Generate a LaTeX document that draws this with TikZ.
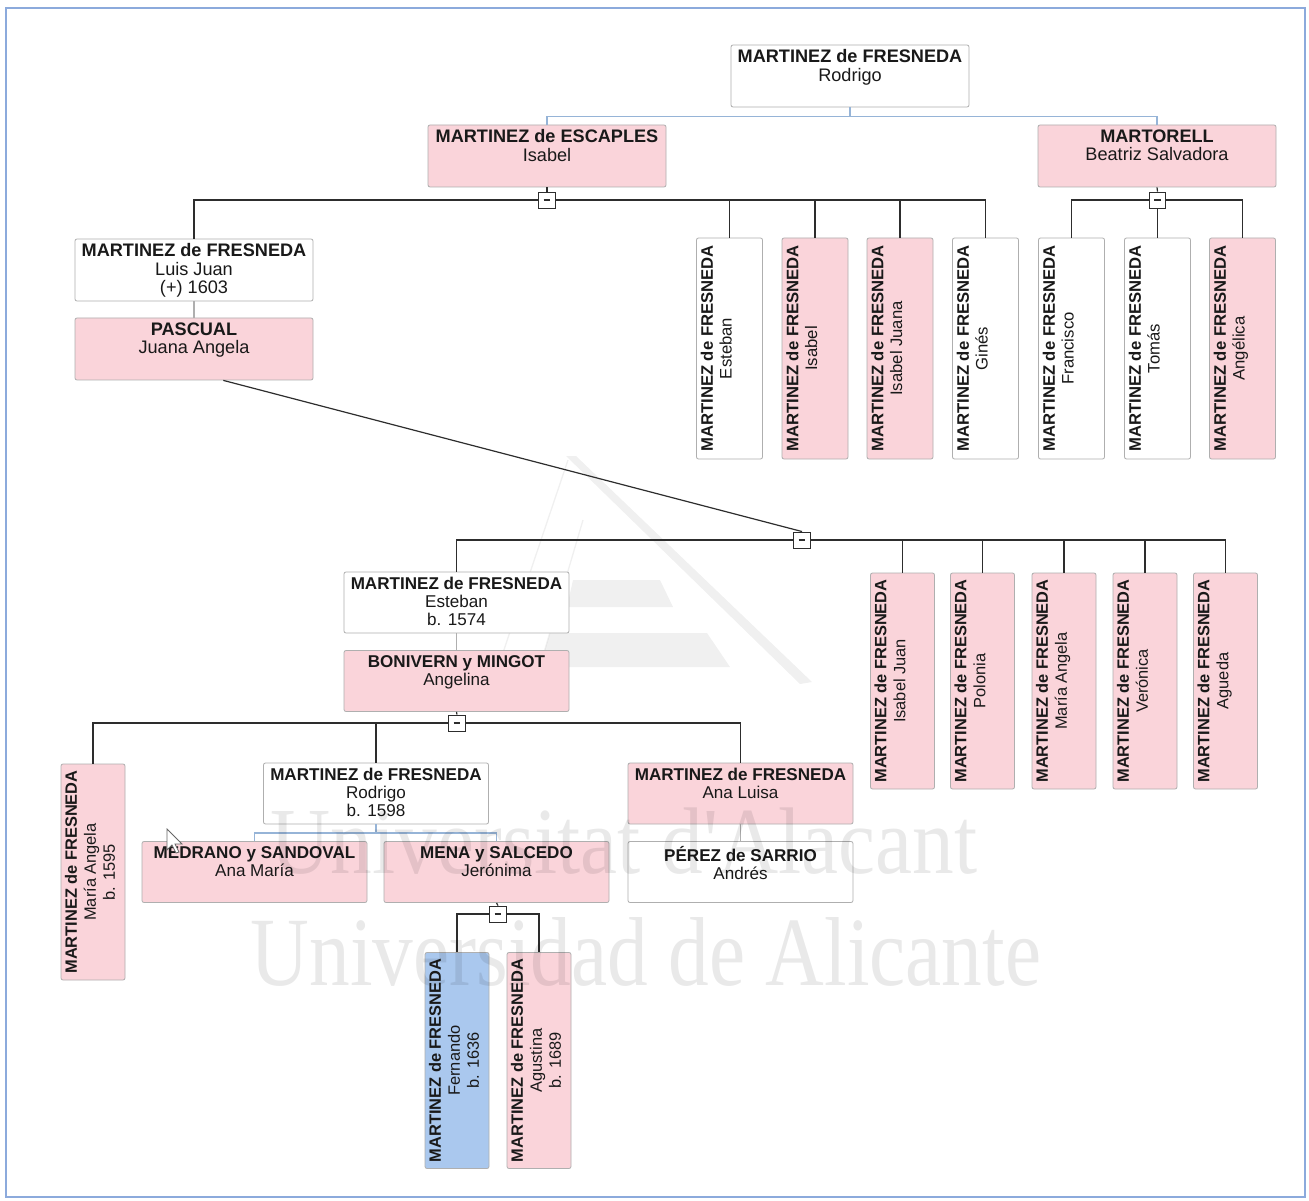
\documentclass[tikz,border=0pt]{standalone}
\usepackage{fontspec}
\setmainfont{Liberation Sans}
\newfontfamily\wmfont{Liberation Serif}
\usetikzlibrary{calc}
\definecolor{pinkf}{RGB}{250,212,218}
\definecolor{bluef}{RGB}{170,200,238}
\definecolor{boxline}{RGB}{175,175,175}
\definecolor{lnk}{RGB}{45,45,45}
\definecolor{spousec}{RGB}{150,180,215}
\definecolor{framec}{RGB}{140,170,220}
\definecolor{txt}{RGB}{25,25,25}
\newcommand\hbig[1]{\parbox[c][46.5pt][t]{178.5pt}{\vskip3.4pt\centering\fontsize{13.6pt}{13.9pt}\selectfont#1\par}}
\newcommand\hmid[1]{\parbox[c][45.75pt][t]{168.75pt}{\vskip3.8pt\centering\fontsize{12.8pt}{13.4pt}\selectfont#1\par}}
\newcommand\vbA[1]{\parbox[c][49.5pt][t]{165.75pt}{\vskip3.2pt\centering\fontsize{12.5pt}{14pt}\selectfont#1\par}}
\newcommand\vbB[1]{\parbox[c][48pt][t]{162pt}{\vskip3pt\centering\fontsize{12.3pt}{14.2pt}\selectfont#1\par}}
\newcommand\mf{\textbf{MARTINEZ de FRESNEDA}}
\tikzset{
  pbox/.style={draw=boxline, line width=0.6pt, rounded corners=1.5pt, inner sep=0pt, text=txt},
  pk/.style={pbox, fill=pinkf},
  bl/.style={pbox, fill=bluef},
  wt/.style={pbox, fill=white},
  turned/.style={rotate=90},
  tog/.style={draw=lnk, fill=white, line width=0.7pt, minimum width=12.5pt, minimum height=12pt, inner sep=0pt,
    path picture={\draw[line width=1pt,lnk] ([xshift=-2.6pt]path picture bounding box.center) -- ([xshift=2.6pt]path picture bounding box.center);}},
  link/.style={draw=lnk, line width=0.9pt},
  sp/.style={draw=spousec, line width=1.1pt},
  cpl/.style={draw=boxline, line width=0.9pt},
  wm/.style={inner sep=0pt, text=black, text opacity=0.085},
}
\begin{document}
\begin{tikzpicture}[x=0.75pt,y=-0.75pt]
\useasboundingbox (0,0) rectangle (1309,1201);
\fill[white] (0,0) rectangle (1309,1201);
\draw[framec, line width=1.3pt] (6,8) rectangle (1305,1197);

% faint logo
\begin{scope}[opacity=0.06]
  \fill[black] (566,456) -- (576,456) -- (812,682) -- (800,684) -- cycle;
  \draw[black, line width=1pt] (568,460) -- (487,700);
  \draw[black, line width=1pt] (583,520) -- (530,700);
  \fill[black] (573,580) -- (660,580) -- (673,607) -- (567,607) -- cycle;
  \fill[black] (550,633) -- (707,633) -- (730,667) -- (540,667) -- cycle;
\end{scope}

% generation 1
\node[wt] (rodrigo1) at (850,76) {\hbig{\mf\\Rodrigo}};
\node[pk] (isabelE) at (547,156) {\hbig{\textbf{MARTINEZ de ESCAPLES}\\Isabel}};
\node[pk] (beatriz) at (1157,156) {\hbig{\textbf{MARTORELL}\\Beatriz Salvadora}};

% generation 2
\node[wt] (luisjuan) at (194,270) {\hbig{\mf\\Luis Juan\\(+) 1603}};
\node[pk] (pascual) at (194,349) {\hbig{\textbf{PASCUAL}\\Juana Angela}};
\node[wt,turned] (vEsteban) at (729.5,348.5) {\vbA{\mf\\Esteban}};
\node[pk,turned] (vIsabel) at (815,348.5) {\vbA{\mf\\Isabel}};
\node[pk,turned] (vIsabelJuana) at (900,348.5) {\vbA{\mf\\Isabel Juana}};
\node[wt,turned] (vGines) at (985.5,348.5) {\vbA{\mf\\Ginés}};
\node[wt,turned] (vFrancisco) at (1071.5,348.5) {\vbA{\mf\\Francisco}};
\node[wt,turned] (vTomas) at (1157.5,348.5) {\vbA{\mf\\Tomás}};
\node[pk,turned] (vAngelica) at (1242.5,348.5) {\vbA{\mf\\Angélica}};

% generation 3
\node[wt] (esteban2) at (456.5,602.5) {\hmid{\mf\\Esteban\\b. 1574}};
\node[pk] (bonivern) at (456.5,681) {\hmid{\textbf{BONIVERN y MINGOT}\\Angelina}};
\node[pk,turned] (r1) at (902.5,681) {\vbB{\mf\\Isabel Juan}};
\node[pk,turned] (r2) at (982.5,681) {\vbB{\mf\\Polonia}};
\node[pk,turned] (r3) at (1064,681) {\vbB{\mf\\María Angela}};
\node[pk,turned] (r4) at (1145,681) {\vbB{\mf\\Verónica}};
\node[pk,turned] (r5) at (1225.5,681) {\vbB{\mf\\Agueda}};

% generation 4
\node[pk,turned] (mA1595) at (93,872) {\vbB{\mf\\María Angela\\b. 1595}};
\node[wt] (rodrigo2) at (376,793.5) {\hmid{\mf\\Rodrigo\\b. 1598}};
\node[pk] (analuisa) at (740.5,793.5) {\hmid{\mf\\Ana Luisa}};
\node[pk] (medrano) at (254.5,872) {\hmid{\textbf{MEDRANO y SANDOVAL}\\Ana María}};
\node[pk] (mena) at (496.5,872) {\hmid{\textbf{MENA y SALCEDO}\\Jerónima}};
\node[wt] (perez) at (740.5,872) {\hmid{\textbf{PÉREZ de SARRIO}\\Andrés}};

% generation 5
\node[bl,turned] (fernando) at (457,1060.5) {\vbB{\mf\\Fernando\\b. 1636}};
\node[pk,turned] (agustina) at (539,1060.5) {\vbB{\mf\\Agustina\\b. 1689}};

% toggles
\node[tog] (t1) at (547,200) {};
\node[tog] (t1b) at (1157.5,200) {};
\node[tog] (t2) at (802,540) {};
\node[tog] (t3) at (457,723) {};
\node[tog] (t4) at (498,914) {};

% spouse links
\draw[sp] (rodrigo1.south) -- ++(0,10);
\draw[sp] (isabelE.north) -- ++(0,-8) -| (beatriz.north);
\draw[sp] (rodrigo2.south) -- ++(0,9);
\draw[sp] (medrano.north) -- ++(0,-8) -| (mena.north);
\draw[cpl] (luisjuan.south) -- (pascual.north);
\draw[cpl] (esteban2.south) -- (bonivern.north);
\draw[cpl] (analuisa.south) -- (perez.north);

% children of Rodrigo & Isabel
\draw[link] (isabelE.south) -- (t1.north);
\draw[link] (t1.west) -| (luisjuan.north);
\draw[link] (t1.east) -| (vGines.east);
\foreach \n in {vEsteban,vIsabel,vIsabelJuana} \draw[link] (\n.east) -- (\n.east |- t1.center);

% children of Rodrigo & Beatriz
\draw[link] (beatriz.south) -- (t1b.north);
\draw[link] (t1b.west) -| (vFrancisco.east);
\draw[link] (t1b.east) -| (vAngelica.east);
\draw[link] (t1b.south) -- (vTomas.east);

% children of Luis Juan & Juana Angela
\draw[link] ([xshift=22pt]pascual.south) -- (t2.north);
\draw[link] (t2.west) -| (esteban2.north);
\draw[link] (t2.east) -| (r5.east);
\foreach \n in {r1,r2,r3,r4} \draw[link] (\n.east) -- (\n.east |- t2.center);

% children of Esteban & Angelina
\draw[link] (bonivern.south) -- (t3.north);
\draw[link] (t3.west) -| (mA1595.east);
\draw[link] (t3.east) -| (analuisa.north);
\draw[link] (rodrigo2.north) -- (rodrigo2.north |- t3.center);

% children of Rodrigo & Jeronima
\draw[link] (mena.south) -- (t4.north);
\draw[link] (t4.west) -| (fernando.east);
\draw[link] (t4.east) -| (agustina.east);

% watermark
\node[wm, anchor=base, font=\wmfont\fontsize{71pt}{71pt}\selectfont] (wm1) at (624,873) {\scalebox{0.88}[1]{Universitat d'Alacant}};
\node[wm, anchor=base, font=\wmfont\fontsize{73.5pt}{73.5pt}\selectfont] (wm2) at (646,985) {\scalebox{0.83}[1]{Universidad de Alicante}};

% mouse pointer
\draw[draw=black!60, fill=white, line width=0.6pt] (167,829) -- (167,850) -- (172,845) -- (176,853) -- (179,852) -- (175,844) -- (182,844) -- cycle;
\end{tikzpicture}
\end{document}
